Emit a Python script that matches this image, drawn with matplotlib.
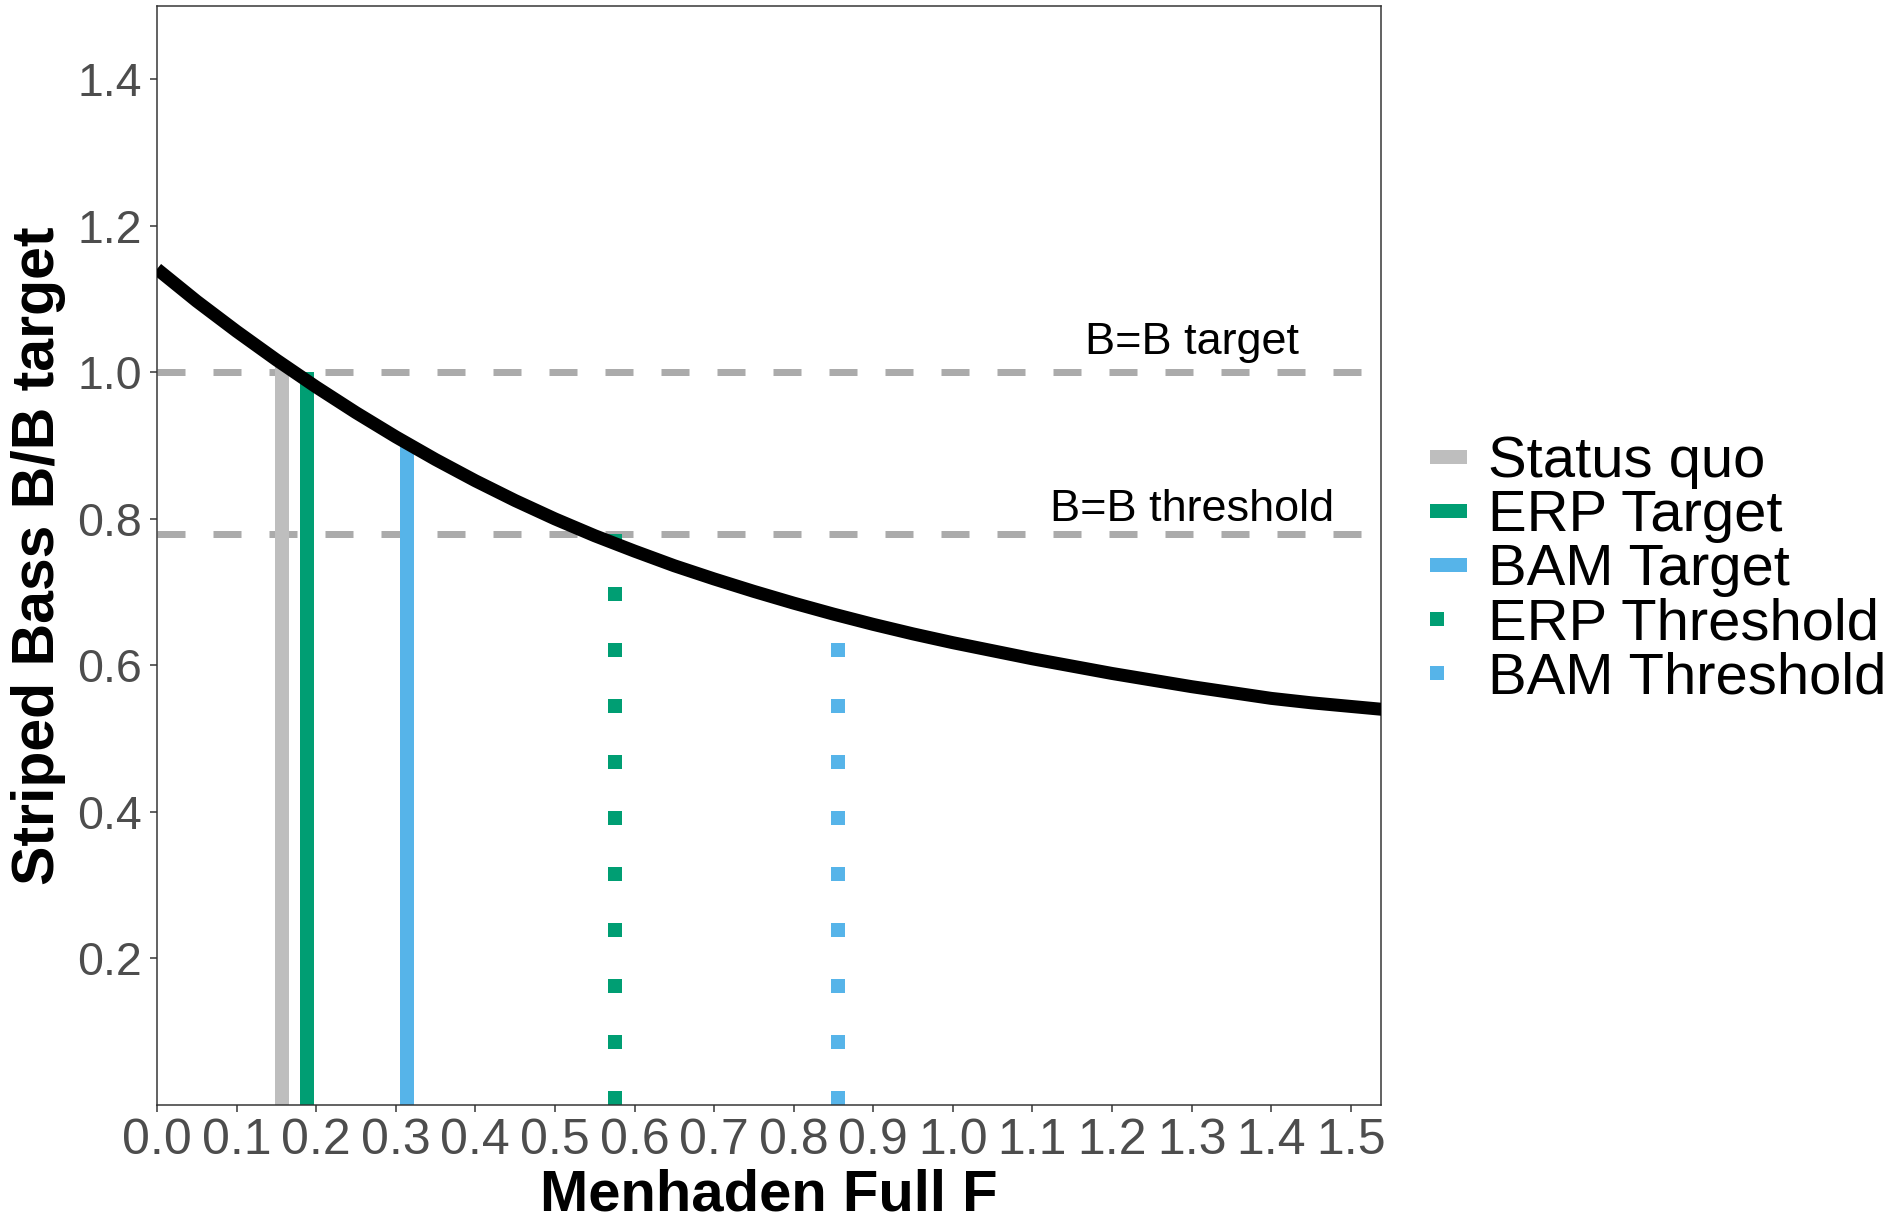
import matplotlib
matplotlib.use("Agg")
import matplotlib.pyplot as plt

plt.rcParams['font.family'] = ['Liberation Sans', 'DejaVu Sans']

# ---- data ----
F_curve = [0.00, 0.05, 0.10, 0.15, 0.20, 0.25, 0.30, 0.35, 0.40, 0.45, 0.50,
           0.55, 0.60, 0.65, 0.70, 0.75, 0.80, 0.85, 0.90, 0.95, 1.00, 1.05,
           1.10, 1.15, 1.20, 1.25, 1.30, 1.35, 1.40, 1.45, 1.50, 1.54]
B_curve = [1.141, 1.097, 1.056, 1.017, 0.980, 0.945, 0.912, 0.881, 0.852, 0.825,
           0.800, 0.777, 0.756, 0.736, 0.718, 0.701, 0.685, 0.670, 0.656, 0.643,
           0.631, 0.620, 0.609, 0.599, 0.589, 0.580, 0.571, 0.563, 0.555, 0.549,
           0.544, 0.540]

ref_names = ["Status quo", "ERP Target", "BAM Target", "ERP Threshold", "BAM Threshold"]
ref_F = [0.1575, 0.188, 0.314, 0.576, 0.856]
ref_B = [1.01, 1.0, 0.90, 0.78, 0.67]
ref_colors = ["#BEBEBE", "#009E73", "#56B4E9", "#009E73", "#56B4E9"]
ref_styles = ["solid", "solid", "solid", "dotted", "dotted"]

hline_vals = [1.0, 0.78]
hline_labels = ["B=B target", "B=B threshold"]
hline_label_x = [1.30, 1.30]
hline_label_y = [1.025, 0.797]

x_ticks = [i / 10 for i in range(16)]
y_ticks = [0.2, 0.4, 0.6, 0.8, 1.0, 1.2, 1.4]

# ---- figure ----
DPI = 100
fig = plt.figure(figsize=(18.97, 12.19), dpi=DPI)
px = 72 / DPI  # points per pixel

L, R, T, B = 157, 1381, 6, 1105
W, H = 1897, 1219
ax = fig.add_axes([L / W, 1 - B / H, (R - L) / W, (B - T) / H])

# horizontal reference lines
for v in hline_vals:
    ax.axhline(v, color="#ABABAB", lw=7 * px, linestyle=(0, (4, 4)),
               dash_capstyle="butt", zorder=1)
for lab, xx, yy in zip(hline_labels, hline_label_x, hline_label_y):
    ax.text(xx, yy, lab, ha="center", va="baseline", fontsize=45 * px, color="black")

# vertical reference segments
handles = []
for name, f, b, c, s in zip(ref_names, ref_F, ref_B, ref_colors, ref_styles):
    ls = (0, (1, 3)) if s == "dotted" else "solid"
    ln, = ax.plot([f, f], [0, b], color=c, lw=14 * px, linestyle=ls,
                  solid_capstyle="butt", dash_capstyle="butt", zorder=2, label=name)
    handles.append(ln)

# main curve
ax.plot(F_curve, B_curve, color="black", lw=13 * px, solid_capstyle="butt",
        solid_joinstyle="round", zorder=3)

ax.set_xlim(0, 1.538)
ax.set_ylim(0, 1.5)
ax.set_xticks(x_ticks)
ax.set_xticklabels([f"{t:.1f}" for t in x_ticks])
ax.set_yticks(y_ticks)
ax.set_yticklabels([f"{t:.1f}" for t in y_ticks])

for sp in ax.spines.values():
    sp.set_color("#333333")
    sp.set_linewidth(1.5 * px)
ax.tick_params(axis="both", length=7 * px, width=1.5 * px, color="#333333",
               labelcolor="#4D4D4D")
ax.tick_params(axis="x", labelsize=50 * px, pad=6 * px)
ax.tick_params(axis="y", labelsize=46.5 * px, pad=8 * px)

ax.set_xlabel("Menhaden Full F", fontsize=58 * px, fontweight="bold", labelpad=3)
ax.set_ylabel("Striped Bass B/B target", fontsize=59 * px, fontweight="bold", labelpad=8)

fig.legend(handles=handles, labels=ref_names, loc="center left",
           bbox_to_anchor=(1430 / W, 1 - 570 / H), frameon=False,
           fontsize=58 * px, handlelength=0.64, handletextpad=0.36,
           labelspacing=0.0, borderpad=0, borderaxespad=0)

fig.savefig("out.png", dpi=DPI)
